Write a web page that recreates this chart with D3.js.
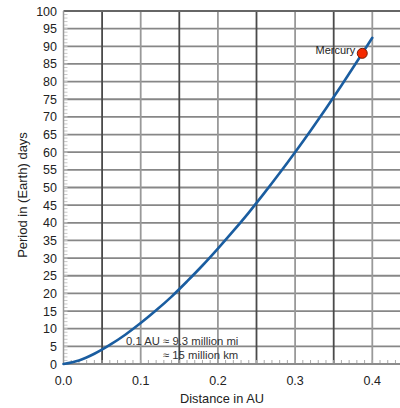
<!DOCTYPE html>
<html>
<head>
<meta charset="utf-8">
<script src="https://cdn.jsdelivr.net/npm/d3@7"></script>
<style>
  html, body { margin: 0; padding: 0; background: #fff; }
  svg { display: block; font-family: "Liberation Sans", Arial, sans-serif; }
</style>
</head>
<body>
<svg id="chart" width="400" height="408"></svg>
<script>
// Orbital distance (AU) and period (Earth days)
const distanceAU = [0.00, 0.02, 0.04, 0.06, 0.08, 0.10, 0.12, 0.14, 0.16, 0.18, 0.20,
                    0.22, 0.24, 0.26, 0.28, 0.30, 0.32, 0.34, 0.36, 0.38, 0.40];
const periodDays = [0.0, 1.0, 2.9, 5.4, 8.3, 11.6, 15.2, 19.1, 23.4, 27.9, 32.7,
                    37.7, 42.9, 48.4, 54.1, 60.0, 66.1, 72.4, 78.9, 85.6, 92.4];
const planetNames = ["Mercury"];
const planetAU = [0.387];
const planetDays = [88.0];
const xTickLabels = ["0.0", "0.1", "0.2", "0.3", "0.4"];
const yTickValues = d3.range(0, 101, 5);
const noteLines = ["0.1 AU \u2248 9.3 million mi", "\u2248 15 million km"];

const svg = d3.select("#chart");
const plotLeft = 63.5, plotTop = 11, plotBottom = 364, plotRight = 400;

const x = d3.scaleLinear().domain([0, 0.4]).range([plotLeft, 372.3]);
const y = d3.scaleLinear().domain([0, 100]).range([plotBottom, plotTop]);
const xMax = x.invert(plotRight);

// horizontal grid every 5 days
svg.append("g").selectAll("line")
  .data(yTickValues.filter(v => v > 0 && v < 100))
  .join("line")
  .attr("x1", plotLeft).attr("x2", plotRight)
  .attr("y1", d => y(d)).attr("y2", d => y(d))
  .attr("stroke", "#878787").attr("stroke-width", 1.8);

// vertical grid every 0.05 AU: darker on odd steps
const vGrid = d3.range(1, 9).map(i => i * 0.05);
svg.append("g").selectAll("line")
  .data(vGrid)
  .join("line")
  .attr("x1", d => x(d)).attr("x2", d => x(d))
  .attr("y1", plotTop).attr("y2", plotBottom)
  .attr("stroke", (d, i) => i % 2 === 0 ? "#4a4a4a" : "#999")
  .attr("stroke-width", 1.8);

// top border
svg.append("line")
  .attr("x1", plotLeft).attr("x2", plotRight).attr("y1", plotTop).attr("y2", plotTop)
  .attr("stroke", "#666").attr("stroke-width", 1.8);

// minor ticks along the bottom (0.01 AU)
const xMinor = d3.range(1, Math.floor(xMax * 100) + 1).map(i => i / 100);
svg.append("g").selectAll("line")
  .data(xMinor)
  .join("line")
  .attr("x1", d => x(d)).attr("x2", d => x(d))
  .attr("y1", plotBottom).attr("y2", plotBottom - 4)
  .attr("stroke", "#aaa").attr("stroke-width", 1);

// minor ticks along the left edge (1 day)
svg.append("g").selectAll("line")
  .data(d3.range(1, 100))
  .join("line")
  .attr("x1", plotLeft).attr("x2", plotLeft + 4)
  .attr("y1", d => y(d)).attr("y2", d => y(d))
  .attr("stroke", "#c8c8c8").attr("stroke-width", 1);

// bottom axis line
svg.append("line")
  .attr("x1", plotLeft).attr("x2", plotRight).attr("y1", plotBottom).attr("y2", plotBottom)
  .attr("stroke", "#8c8c8c").attr("stroke-width", 1.8);
// left axis line
svg.append("line")
  .attr("x1", plotLeft).attr("x2", plotLeft).attr("y1", plotTop).attr("y2", plotBottom)
  .attr("stroke", "#999").attr("stroke-width", 1.5);

// y tick labels
svg.append("g").selectAll("text")
  .data(yTickValues)
  .join("text")
  .attr("x", 57).attr("y", d => y(d) + 4.5)
  .attr("text-anchor", "end")
  .attr("font-size", 12.5).attr("fill", "#222")
  .text(d => d);

// x tick labels
svg.append("g").selectAll("text")
  .data(xTickLabels)
  .join("text")
  .attr("x", d => x(+d)).attr("y", 385)
  .attr("text-anchor", "middle")
  .attr("font-size", 12.5).attr("fill", "#222")
  .text(d => d);

// axis titles
svg.append("text")
  .attr("x", 222).attr("y", 403)
  .attr("text-anchor", "middle")
  .attr("font-size", 12.8).attr("fill", "#222")
  .text("Distance in AU");
svg.append("text")
  .attr("transform", "translate(27,195) rotate(-90)")
  .attr("text-anchor", "middle")
  .attr("font-size", 13).attr("fill", "#222")
  .text("Period in (Earth) days");

// conversion note
svg.append("text")
  .attr("x", 126).attr("y", 345)
  .attr("font-size", 11.3).attr("fill", "#333")
  .text(noteLines[0]);
svg.append("text")
  .attr("x", 163).attr("y", 359)
  .attr("font-size", 11.3).attr("fill", "#333")
  .text(noteLines[1]);

// period curve
const line = d3.line()
  .x((d, i) => x(distanceAU[i]))
  .y(d => y(d))
  .curve(d3.curveMonotoneX);
svg.append("path")
  .attr("d", line(periodDays))
  .attr("fill", "none")
  .attr("stroke", "#1a5da0")
  .attr("stroke-width", 2.6)
  .attr("stroke-linecap", "round");

// planet marker
planetNames.forEach((name, i) => {
  svg.append("circle")
    .attr("cx", x(planetAU[i])).attr("cy", y(planetDays[i]))
    .attr("r", 5)
    .attr("fill", "#f52a00").attr("stroke", "#7a1a00").attr("stroke-width", 1);
  svg.append("text")
    .attr("x", x(planetAU[i]) - 7).attr("y", y(planetDays[i]) + 1)
    .attr("text-anchor", "end")
    .attr("font-size", 11).attr("fill", "#222")
    .text(name);
});
</script>
</body>
</html>
